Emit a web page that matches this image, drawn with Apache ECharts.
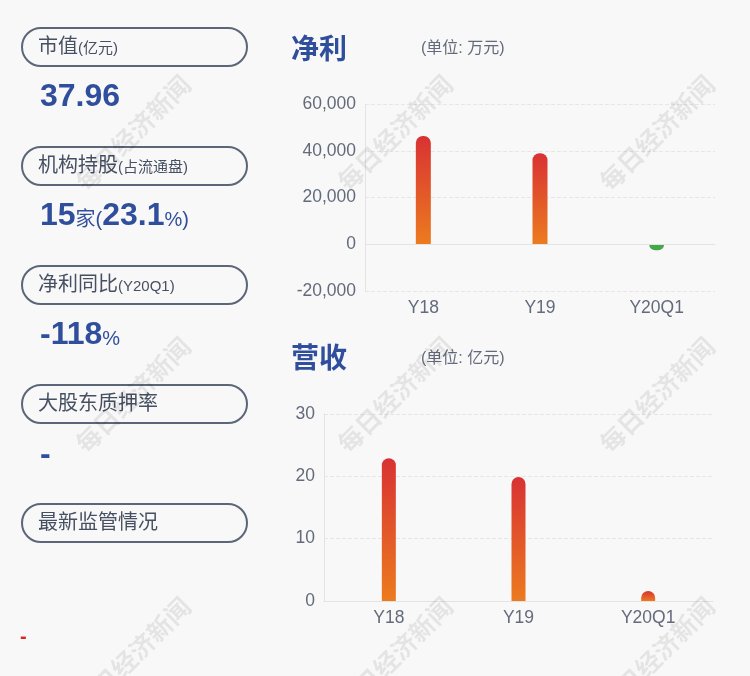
<!DOCTYPE html>
<html>
<head>
<meta charset="utf-8">
<script src="https://cdn.jsdelivr.net/npm/echarts@6/dist/echarts.min.js"></script>
<style>
html,body{margin:0;padding:0;background:#f8f8f8;}
#c{width:750px;height:676px;}
</style>
</head>
<body>
<div id="c"></div>
<script>
// ---- data ----
const categories = ['Y18', 'Y19', 'Y20Q1'];
const netProfit = [46300, 38900, -2550];      // 万元
const revenue = [22.9, 19.9, 1.6];            // 亿元
const profitTicks = { min: -20000, max: 60000, interval: 20000 };
const revenueTicks = { min: 0, max: 30, interval: 10 };
const panelLabels = [['市值', '(亿元)'], ['机构持股', '(占流通盘)'], ['净利同比', '(Y20Q1)'], ['大股东质押率', ''], ['最新监管情况', '']];
const marketCap = '37.96';
const instHold = ['15', '家', '(', '23.1', '%)'];
const profitYoY = ['-118', '%'];
const pledge = '-';
const watermark = '每日经济新闻';

// ---- styles ----
const FONT = "'Liberation Sans', Arial, 'Noto Sans CJK SC', sans-serif";
const BLUE = '#2f4e9c';
const GRAY = '#465062';
const AXIS = '#636b7b';

const chart = echarts.init(document.getElementById('c'), null, { renderer: 'canvas' });

const graphics = [];
// left panel boxes
const boxY = [27, 146, 265, 384, 503];
panelLabels.forEach((p, i) => {
  graphics.push({
    type: 'rect', left: 21, top: boxY[i],
    shape: { width: 225, height: 38, r: 19 },
    style: { fill: 'rgba(0,0,0,0)', stroke: '#5b6678', lineWidth: 2 }
  });
  graphics.push({
    type: 'text', x: 38, y: boxY[i] + 19,
    style: {
      text: '{a|' + p[0] + '}' + (p[1] ? '{b|' + p[1] + '}' : ''),
      verticalAlign: 'middle', fontFamily: FONT,
      rich: {
        a: { fontSize: 20, fill: GRAY, fontFamily: FONT, verticalAlign: 'bottom', lineHeight: 22 },
        b: { fontSize: 15, fill: GRAY, fontFamily: FONT, verticalAlign: 'bottom', lineHeight: 22, padding: [0, 0, 1, 0] }
      }
    }
  });
});
const bigRich = {
  b: { fontSize: 32, fontWeight: 'bold', fill: BLUE, fontFamily: FONT, verticalAlign: 'bottom', lineHeight: 34 },
  s: { fontSize: 20, fill: BLUE, fontFamily: FONT, verticalAlign: 'bottom', lineHeight: 34, padding: [0, 0, 2, 0] }
};
graphics.push({ type: 'text', x: 40, y: 96, style: { text: '{b|' + marketCap + '}', verticalAlign: 'middle', rich: bigRich } });
graphics.push({ type: 'text', x: 40, y: 215, style: {
  text: '{b|' + instHold[0] + '}{s|' + instHold[1] + instHold[2] + '}{b|' + instHold[3] + '}{s|' + instHold[4] + '}',
  verticalAlign: 'middle', rich: bigRich } });
graphics.push({ type: 'text', x: 40, y: 334, style: {
  text: '{b|' + profitYoY[0] + '}{s|' + profitYoY[1] + '}', verticalAlign: 'middle', rich: bigRich } });
graphics.push({ type: 'text', x: 40, y: 454, style: { text: '{b|' + pledge + '}', verticalAlign: 'middle', rich: bigRich } });
graphics.push({ type: 'text', x: 20, y: 637, style: { text: '-', fontSize: 20, fontWeight: 'bold', fill: '#e02424', fontFamily: FONT, verticalAlign: 'middle' } });

// titles
graphics.push({ type: 'text', x: 291, y: 51, style: { text: '净利', fontSize: 28, fontWeight: 'bold', fill: BLUE, fontFamily: FONT, verticalAlign: 'middle' } });
graphics.push({ type: 'text', x: 421, y: 49, style: { text: '(单位: 万元)', fontSize: 16, fill: AXIS, fontFamily: FONT, verticalAlign: 'middle' } });
graphics.push({ type: 'text', x: 291, y: 360, style: { text: '营收', fontSize: 28, fontWeight: 'bold', fill: BLUE, fontFamily: FONT, verticalAlign: 'middle' } });
graphics.push({ type: 'text', x: 421, y: 359, style: { text: '(单位: 亿元)', fontSize: 16, fill: AXIS, fontFamily: FONT, verticalAlign: 'middle' } });

// watermarks
[133, 395, 657].forEach(cx => {
  [133, 395, 655].forEach(cy => {
    graphics.push({
      type: 'text', x: cx, y: cy, rotation: Math.PI / 4, z: 100, silent: true,
      style: { text: watermark, fontSize: 25, fontWeight: 'bold', fill: 'rgba(0,0,0,0.08)',
        fontFamily: "'Noto Sans CJK SC', sans-serif", align: 'center', verticalAlign: 'middle' }
    });
  });
});

function grad(neg) {
  if (neg) return '#43a847';
  return new echarts.graphic.LinearGradient(0, 0, 0, 1, [
    { offset: 0, color: '#d83233' },
    { offset: 1, color: '#ec7b1f' }
  ]);
}
function barData(arr) {
  return arr.map(v => ({
    value: v,
    itemStyle: { color: grad(v < 0), borderRadius: v < 0 ? [0, 0, 7, 7] : [7, 7, 0, 0] }
  }));
}

const axisLabel = { color: AXIS, fontSize: 17.5, fontFamily: FONT, margin: 9 };

chart.setOption({
  backgroundColor: '#f8f8f8',
  animation: false,
  grid: [
    { left: 365, top: 104, width: 350, height: 187 },
    { left: 324, top: 414, width: 389, height: 187 }
  ],
  xAxis: [
    { type: 'category', gridIndex: 0, data: categories, axisTick: { show: false },
      axisLine: { show: false, onZero: false }, axisLabel: Object.assign({}, axisLabel, { margin: 8 }) },
    { type: 'category', gridIndex: 1, data: categories, axisTick: { show: false },
      axisLine: { show: true, lineStyle: { color: '#e3e3e3' } }, axisLabel: Object.assign({}, axisLabel, { margin: 8 }) }
  ],
  yAxis: [
    { type: 'value', gridIndex: 0, min: profitTicks.min, max: profitTicks.max, interval: profitTicks.interval,
      axisLine: { show: true, lineStyle: { color: '#e3e3e3' } }, axisTick: { show: false },
      splitLine: { lineStyle: { type: 'dashed', color: '#e6e6e6' } }, axisLabel: axisLabel },
    { type: 'value', gridIndex: 1, min: revenueTicks.min, max: revenueTicks.max, interval: revenueTicks.interval,
      axisLine: { show: true, lineStyle: { color: '#e3e3e3' } }, axisTick: { show: false },
      splitLine: { lineStyle: { type: 'dashed', color: '#e6e6e6' } }, axisLabel: axisLabel }
  ],
  series: [
    { type: 'bar', xAxisIndex: 0, yAxisIndex: 0, barWidth: 15, data: barData(netProfit),
      markLine: { silent: true, symbol: 'none', label: { show: false },
        lineStyle: { type: 'solid', color: '#e3e3e3', width: 1 }, data: [{ yAxis: 0 }] } },
    { type: 'bar', xAxisIndex: 1, yAxisIndex: 1, barWidth: 14, data: barData(revenue) }
  ],
  graphic: graphics
});
</script>
</body>
</html>
